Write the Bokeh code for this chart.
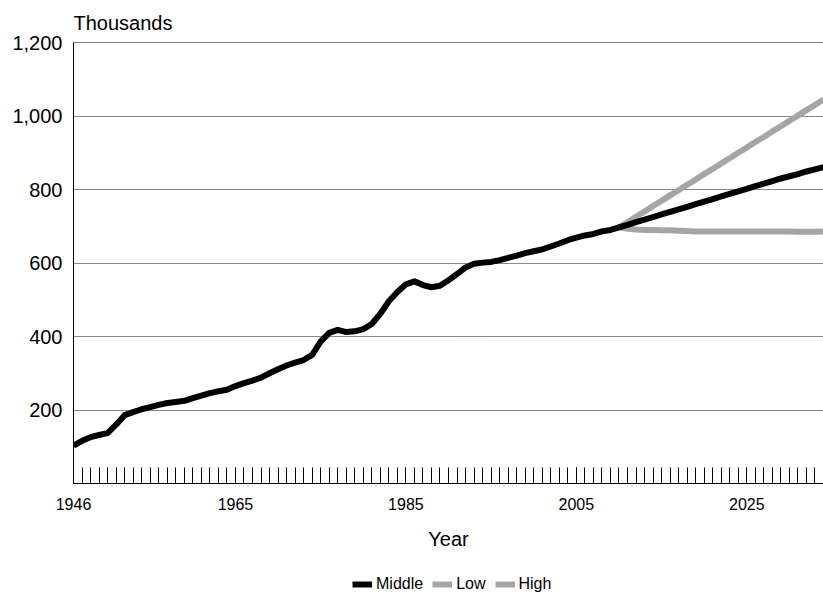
from bokeh.plotting import figure
from bokeh.layouts import column
from bokeh.models import (Range1d, FixedTicker, NumeralTickFormatter, Span,
                          Legend, LegendItem, ColumnDataSource)
from bokeh.embed import file_html
from bokeh.resources import INLINE

# ---- data ----
hist_years = list(range(1946, 2011))
middle_hist = [103, 116, 126, 132, 137, 160, 186, 194, 202, 208,
               214, 219, 222, 225, 232, 239, 246, 251, 255, 265,
               273, 280, 288, 300, 311, 321, 329, 336, 350, 386,
               410, 418, 412, 414, 420, 434, 462, 496, 521, 542,
               550, 540, 534, 538, 553, 570, 588, 598, 601, 603,
               608, 614, 620, 627, 632, 637, 645, 653, 662, 669,
               675, 679, 686, 690, 697]

proj_years = list(range(2010, 2035))
middle_proj = [697, 704, 711, 718, 725, 732, 739, 746, 753, 760,
               767, 774, 781, 788, 795, 802, 809, 816, 823, 830,
               836, 842, 849, 855, 861]
low_proj = [697, 693, 691, 690, 690, 689, 689, 688, 687, 686,
            686, 686, 686, 686, 686, 686, 686, 686, 686, 686,
            686, 685, 685, 685, 686]
high_proj = [697, 711, 726, 740, 755, 769, 784, 798, 813, 827,
             842, 856, 871, 885, 900, 914, 929, 943, 958, 972,
             987, 1001, 1016, 1030, 1045]

series_names = ["Middle", "Low", "High"]
x_label_ticks = [1946, 1965, 1985, 2005, 2025]
y_ticks = [200, 400, 600, 800, 1000, 1200]

FONT = "Liberation Sans"
GRAY = "#A5A5A5"
LW = 6
colors = {"Middle": "black", "Low": GRAY, "High": GRAY}

p = figure(width=823, height=568, output_backend="svg", toolbar_location=None,
           x_range=Range1d(1946, 2034), y_range=Range1d(0, 1200),
           min_border_left=73, min_border_top=40, min_border_right=0,
           min_border_bottom=85)
p.outline_line_color = None
p.background_fill_color = "white"

# unit label as title
p.title.text = "Thousands"
p.title.align = "left"
p.title.offset = 0
p.title.standoff = 18
p.title.text_font = FONT
p.title.text_font_size = "20px"
p.title.text_font_style = "normal"
p.title.text_color = "black"

src_mid_h = ColumnDataSource(dict(x=hist_years, y=middle_hist))
src_mid_p = ColumnDataSource(dict(x=proj_years, y=middle_proj))
src_low = ColumnDataSource(dict(x=proj_years, y=low_proj))
src_high = ColumnDataSource(dict(x=proj_years, y=high_proj))
sources = {"Middle": src_mid_p, "Low": src_low, "High": src_high}

p.line("x", "y", source=src_low, line_color=GRAY, line_width=LW, line_join="round")
p.line("x", "y", source=src_high, line_color=GRAY, line_width=LW, line_join="round")
p.line("x", "y", source=src_mid_h, line_color="black", line_width=LW, line_join="round")
p.line("x", "y", source=src_mid_p, line_color="black", line_width=LW, line_join="round")

# grid
p.xgrid.grid_line_color = None
p.ygrid.ticker = FixedTicker(ticks=[200, 400, 600, 800, 1000])
p.ygrid.grid_line_color = "#111111"
p.ygrid.grid_line_dash = "1 1"
p.ygrid.grid_line_width = 1
p.add_layout(Span(location=1200, dimension="width", line_color="black", line_width=1))

# y axis
p.yaxis.ticker = FixedTicker(ticks=y_ticks)
p.yaxis.formatter = NumeralTickFormatter(format="0,0")
p.yaxis.major_tick_in = 0
p.yaxis.major_tick_out = 0
p.yaxis.minor_tick_in = 0
p.yaxis.minor_tick_out = 0
p.yaxis.major_label_standoff = 11
p.yaxis.major_label_text_font = FONT
p.yaxis.major_label_text_font_size = "20px"
p.yaxis.major_label_text_color = "black"
p.yaxis.axis_line_color = "black"

# x axis
p.xaxis.ticker = FixedTicker(ticks=x_label_ticks, minor_ticks=list(range(1946, 2035)))
p.xaxis.major_tick_in = 16
p.xaxis.major_tick_out = 0
p.xaxis.minor_tick_in = 16
p.xaxis.minor_tick_out = 0
p.xaxis.major_tick_line_color = "black"
p.xaxis.minor_tick_line_color = "black"
p.xaxis.major_label_standoff = 14
p.xaxis.major_label_text_font = FONT
p.xaxis.major_label_text_font_size = "16px"
p.xaxis.major_label_text_color = "black"
p.xaxis.axis_line_color = "black"
p.xaxis.axis_label = "Year"
p.xaxis.axis_label_text_font = FONT
p.xaxis.axis_label_text_font_size = "20px"
p.xaxis.axis_label_text_font_style = "normal"
p.xaxis.axis_label_text_color = "black"
p.xaxis.axis_label_standoff = 15

# legend strip below the chart (series drawn out of its view, only swatches show)
lg = figure(width=823, height=30, output_backend="svg", toolbar_location=None,
            x_range=Range1d(0, 1), y_range=Range1d(0, 1),
            min_border_left=0, min_border_right=0, min_border_top=0, min_border_bottom=0)
lg.axis.visible = False
lg.grid.visible = False
lg.outline_line_color = None
items = []
for name in series_names:
    r = lg.line("x", "y", source=sources[name], line_color=colors[name], line_width=LW)
    items.append(LegendItem(label=name, renderers=[r]))
legend = Legend(items=items, orientation="horizontal", location=(279, 5),
                glyph_width=20, glyph_height=8, label_standoff=4, spacing=9,
                padding=0, margin=0, border_line_color=None,
                background_fill_alpha=0,
                label_text_font=FONT, label_text_font_size="16px",
                label_text_color="black")
lg.add_layout(legend, "center")

open("out.html", "w").write(file_html(column(p, lg), INLINE))
